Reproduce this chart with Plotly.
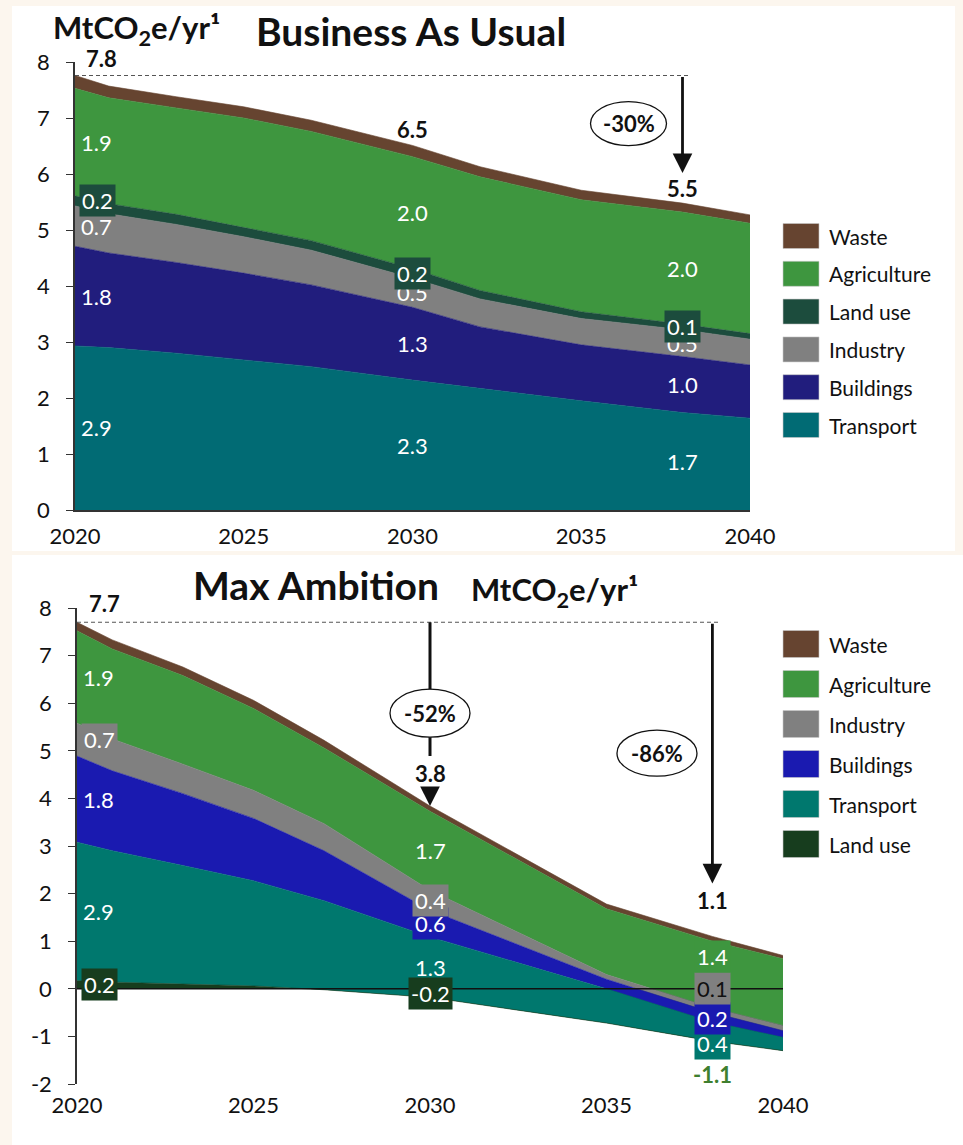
import plotly.graph_objects as go

# ---------------- data (MtCO2e per year) ----------------
bau_years = [2020, 2021, 2023, 2025, 2027, 2030, 2032, 2035, 2038, 2040]
bau_transport = [2.93, 2.90, 2.80, 2.68, 2.56, 2.32, 2.17, 1.95, 1.74, 1.64]
bau_buildings = [1.78, 1.69, 1.62, 1.55, 1.46, 1.30, 1.10, 1.00, 1.00, 0.95]
bau_industry = [0.72, 0.70, 0.68, 0.65, 0.62, 0.52, 0.50, 0.47, 0.48, 0.46]
bau_land_use = [0.18, 0.18, 0.18, 0.17, 0.17, 0.17, 0.15, 0.12, 0.10, 0.10]
bau_agriculture = [1.92, 1.89, 1.90, 1.95, 1.95, 2.00, 2.03, 2.00, 2.00, 1.97]
bau_waste = [0.23, 0.21, 0.20, 0.20, 0.20, 0.20, 0.18, 0.17, 0.16, 0.15]

max_years = [2020, 2021, 2023, 2025, 2027, 2030, 2035, 2038, 2040]
max_land_use = [0.17, 0.14, 0.10, 0.06, -0.02, -0.18, -0.72, -1.10, -1.30]
max_transport = [2.91, 2.76, 2.49, 2.21, 1.87, 1.27, 0.72, 0.40, 0.28]
max_buildings = [1.81, 1.68, 1.51, 1.31, 1.05, 0.56, 0.20, 0.20, 0.14]
max_industry = [0.69, 0.67, 0.62, 0.59, 0.57, 0.42, 0.10, 0.10, 0.11]
max_agriculture = [1.94, 1.89, 1.86, 1.72, 1.59, 1.66, 1.38, 1.40, 1.40]
max_waste = [0.18, 0.19, 0.18, 0.17, 0.16, 0.11, 0.10, 0.10, 0.07]

label_years = [2020, 2030, 2038]
tick_years = [2020, 2025, 2030, 2035, 2040]
bau_yticks = [0, 1, 2, 3, 4, 5, 6, 7, 8]
max_yticks = [-2, -1, 0, 1, 2, 3, 4, 5, 6, 7, 8]
bau_cut_text = "-30%"
max_cut_texts = ["-52%", "-86%"]

# stacking order, bottom to top
bau_stack = [("Transport", bau_transport), ("Buildings", bau_buildings),
             ("Industry", bau_industry), ("Land use", bau_land_use),
             ("Agriculture", bau_agriculture), ("Waste", bau_waste)]
max_stack = [("Land use", max_land_use), ("Transport", max_transport),
             ("Buildings", max_buildings), ("Industry", max_industry),
             ("Agriculture", max_agriculture), ("Waste", max_waste)]

# ---------------- styling ----------------
W, H = 963, 1145
FONT = "Lato, 'Open Sans', 'DejaVu Sans', sans-serif"
INK = "#111111"
bau_colors = {"Waste": "#664430", "Agriculture": "#3e963f", "Land use": "#1c4c3d",
              "Industry": "#808080", "Buildings": "#211d7d", "Transport": "#016b74"}
max_colors = {"Waste": "#664430", "Agriculture": "#3e963f", "Industry": "#808080",
              "Buildings": "#1a1ab0", "Transport": "#00786e", "Land use": "#173d1e"}

# plot areas in pixels (left, right, top, bottom)
TOP_BOX = (75, 750, 62, 510)
BOT_BOX = (77, 783, 608, 1084)


def px(x):
    return x / W


def py(y):
    return 1 - y / H


fig = go.Figure()

for name, vals in bau_stack:
    c = bau_colors[name]
    fig.add_trace(go.Scatter(x=bau_years, y=vals, name=name, stackgroup="bau",
                             mode="lines", line=dict(width=0.6, color=c),
                             fillcolor=c, xaxis="x", yaxis="y",
                             showlegend=False, hoverinfo="skip"))
for name, vals in max_stack:
    c = max_colors[name]
    fig.add_trace(go.Scatter(x=max_years, y=vals, name=name, stackgroup="max",
                             mode="lines", line=dict(width=0.6, color=c),
                             fillcolor=c, xaxis="x2", yaxis="y2",
                             showlegend=False, hoverinfo="skip"))

annotations = []
shapes = []

# white panels on the cream page
shapes.append(dict(type="rect", xref="paper", yref="paper", x0=px(12), x1=px(955),
                   y0=py(551), y1=py(6), fillcolor="white", line=dict(width=0),
                   layer="below"))
shapes.append(dict(type="rect", xref="paper", yref="paper", x0=px(12), x1=1,
                   y0=0, y1=py(555), fillcolor="white", line=dict(width=0),
                   layer="below"))


def label(x, y, text, xref, yref, color="white", bg=None, bold=False,
          xanchor="center", xshift=0, yshift=0, size=22):
    t = f"<b>{text}</b>" if bold else text
    d = dict(x=x, y=y, xref=xref, yref=yref, text=t, showarrow=False,
             font=dict(family=FONT, size=size, color=color),
             xanchor=xanchor, yanchor="middle", xshift=xshift, yshift=yshift)
    if bg is not None:
        d.update(bgcolor=bg, borderpad=2)
    annotations.append(d)


def column_labels(years, stack, colors, xref, yref, boxed, text_color, y_override):
    for ly in label_years:
        i = years.index(ly)
        base = 0.0
        for name, vals in stack:
            v = vals[i]
            mid = base + v / 2
            base += v
            if name == "Waste":
                continue
            y = y_override.get((ly, name), mid)
            bg = colors[name] if name in boxed.get(ly, set()) else None
            col = text_color.get((ly, name), "white")
            bold = (ly, name) in text_color
            if ly == label_years[0]:
                label(ly, y, f"{v:.1f}", xref, yref, color=col, bg=bg,
                      xanchor="left", xshift=4, bold=bold)
            else:
                label(ly, y, f"{v:.1f}", xref, yref, color=col, bg=bg, bold=bold)


def totals(years, stack):
    return [sum(vals[i] for _, vals in stack) for i in range(len(years))]


# ---------- Business As Usual labels ----------
column_labels(bau_years, bau_stack, bau_colors, "x", "y",
              {2020: {"Land use"}, 2030: {"Land use"}, 2038: {"Land use"}},
              {}, {})
bau_tot = totals(bau_years, bau_stack)
t0 = bau_tot[0]
label(2020, t0, f"{t0:.1f}", "x", "y", color=INK, bold=True, xanchor="left",
      xshift=9, yshift=17)
for ly, ys in ((2030, 16), (2038, 15)):
    t = bau_tot[bau_years.index(ly)]
    label(ly, t, f"{t:.1f}", "x", "y", color=INK, bold=True, yshift=ys)

top_unit = (TOP_BOX[3] - TOP_BOX[2]) / 8.0
shapes.append(dict(type="line", xref="x", yref="y", x0=2020, x1=2038.2, y0=t0, y1=t0,
                   line=dict(color="#555555", width=1.1, dash="4px,3px"), layer="above"))
t38 = bau_tot[bau_years.index(2038)]
annotations.append(dict(x=2038, y=t38 + 30 / top_unit, xref="x", yref="y",
                        ax=2038, ay=t0, axref="x", ayref="y", text="",
                        showarrow=True, arrowhead=2, arrowsize=1.4, arrowwidth=2.8,
                        arrowcolor=INK, standoff=0, startstandoff=0))
shapes.append(dict(type="circle", xref="x", yref="y", xsizemode="pixel",
                   ysizemode="pixel", xanchor=2036.4, yanchor=6.9,
                   x0=-38, x1=38, y0=-22, y1=22, fillcolor="white",
                   line=dict(color=INK, width=1.3), layer="above"))
label(2036.4, 6.9, bau_cut_text, "x", "y", color=INK, bold=True, size=22)

# ---------- Max Ambition labels ----------
column_labels(max_years, max_stack, max_colors, "x2", "y2",
              {2020: {"Industry", "Land use"},
               2030: {"Industry", "Buildings", "Land use"},
               2038: {"Agriculture", "Industry", "Buildings", "Transport"}},
              {(2038, "Land use"): "#3f7f2f"},
              {(2038, "Agriculture"): 0.67, (2038, "Industry"): 0.0,
               (2038, "Buildings"): -0.63, (2038, "Transport"): -1.14,
               (2038, "Land use"): -1.79})
# the grey 0.1 label uses dark text
for a in annotations:
    if a.get("bgcolor") == max_colors["Industry"] and a["xref"] == "x2" and a["x"] == 2038:
        a["font"]["color"] = INK

max_tot = totals(max_years, max_stack)
m0 = max_tot[0]
bot_unit = (BOT_BOX[3] - BOT_BOX[2]) / 10.0
label(2020, m0, f"{m0:.1f}", "x2", "y2", color=INK, bold=True, xanchor="left",
      xshift=10, yshift=19)
shapes.append(dict(type="line", xref="x2", yref="y2", x0=2020, x1=2038.2, y0=m0, y1=m0,
                   line=dict(color="#555555", width=1.1, dash="4px,3px"), layer="above"))

# 2030 marker: line through the ellipse, value, short arrow to the curve
m30 = max_tot[max_years.index(2030)]
shapes.append(dict(type="line", xref="x2", yref="y2", x0=2030, x1=2030, y0=m0,
                   y1=m30 + 50 / bot_unit, line=dict(color=INK, width=3), layer="above"))
shapes.append(dict(type="circle", xref="x2", yref="y2", xsizemode="pixel",
                   ysizemode="pixel", xanchor=2030, yanchor=5.79,
                   x0=-40, x1=40, y0=-24, y1=24, fillcolor="white",
                   line=dict(color=INK, width=1.3), layer="above"))
label(2030, 5.79, max_cut_texts[0], "x2", "y2", color=INK, bold=True)
label(2030, m30, f"{m30:.1f}", "x2", "y2", color=INK, bold=True, yshift=33)
annotations.append(dict(x=2030, y=m30, xref="x2", yref="y2", ax=0, ay=-19,
                        text="", showarrow=True, arrowhead=2, arrowsize=1.4,
                        arrowwidth=2.8, arrowcolor=INK, standoff=0))

# 2038 marker
m38 = max_tot[max_years.index(2038)]
annotations.append(dict(x=2038, y=m38 + 53 / bot_unit, xref="x2", yref="y2",
                        ax=2038, ay=m0, axref="x2", ayref="y2", text="",
                        showarrow=True, arrowhead=2, arrowsize=1.4, arrowwidth=2.8,
                        arrowcolor=INK, standoff=0, startstandoff=0))
label(2038, m38, f"{m38:.1f}", "x2", "y2", color=INK, bold=True, yshift=36)
shapes.append(dict(type="circle", xref="x2", yref="y2", xsizemode="pixel",
                   ysizemode="pixel", xanchor=2036.43, yanchor=4.95,
                   x0=-40, x1=40, y0=-23, y1=23, fillcolor="white",
                   line=dict(color=INK, width=1.3), layer="above"))
label(2036.43, 4.95, max_cut_texts[1], "x2", "y2", color=INK, bold=True)

# zero line over the areas
shapes.append(dict(type="line", xref="x2", yref="y2", x0=2020, x1=2040, y0=0, y1=0,
                   line=dict(color=INK, width=1.5), layer="above"))


# ---------- legends ----------
def legend(names, colors, x_sw, y_first, step, sw_h):
    for k, name in enumerate(names):
        yc = y_first + k * step
        shapes.append(dict(type="rect", xref="paper", yref="paper",
                           x0=px(x_sw), x1=px(x_sw + 36),
                           y0=py(yc + sw_h / 2), y1=py(yc - sw_h / 2),
                           fillcolor=colors[name],
                           line=dict(color="rgba(200,200,200,0.6)", width=1)))
        annotations.append(dict(x=px(x_sw + 44), y=py(yc), xref="paper", yref="paper",
                                text=name, showarrow=False, xanchor="left",
                                yanchor="middle",
                                font=dict(family=FONT, size=21, color=INK)))


legend([n for n, _ in reversed(bau_stack)], bau_colors, 783, 236, 37.8, 25)
legend([n for n, _ in reversed(max_stack)], max_colors, 783, 644, 40, 27)

# ---------- titles ----------
unit = "MtCO<sub>2</sub>e/yr\u00b9"
annotations.append(dict(x=px(51), y=py(30), xref="paper", yref="paper",
                        text=f"<b>{unit}</b>", showarrow=False, xanchor="left",
                        yanchor="middle", font=dict(family=FONT, size=31, color=INK)))
annotations.append(dict(x=px(254), y=py(31), xref="paper", yref="paper",
                        text="<b>Business As Usual</b>", showarrow=False,
                        xanchor="left", yanchor="middle",
                        font=dict(family=FONT, size=39, color=INK)))
annotations.append(dict(x=px(191), y=py(585), xref="paper", yref="paper",
                        text="<b>Max Ambition</b>", showarrow=False, xanchor="left",
                        yanchor="middle", font=dict(family=FONT, size=39, color=INK)))
annotations.append(dict(x=px(469), y=py(591), xref="paper", yref="paper",
                        text=f"<b>{unit}</b>", showarrow=False, xanchor="left",
                        yanchor="middle", font=dict(family=FONT, size=31, color=INK)))

axis_font = dict(family=FONT, size=22, color=INK)
fig.update_layout(
    width=W, height=H, margin=dict(l=0, r=0, t=0, b=0, pad=0, autoexpand=False),
    paper_bgcolor="#fcf6ee", plot_bgcolor="white", showlegend=False,
    font=dict(family=FONT, color=INK),
    xaxis=dict(domain=[px(TOP_BOX[0]), px(TOP_BOX[1])], range=[2020, 2040],
               anchor="y", tickvals=tick_years, showgrid=False, zeroline=False,
               showline=True, linecolor="#333333", linewidth=1.5, ticks="",
               tickfont=axis_font, ticklabelstandoff=6, layer="above traces",
               automargin=False),
    yaxis=dict(domain=[py(TOP_BOX[3]), py(TOP_BOX[2])], range=[0, 8],
               tickvals=bau_yticks, ticktext=[str(v) for v in bau_yticks],
               anchor="x", showgrid=False, zeroline=False, showline=True,
               linecolor="#333333", linewidth=1.5, ticks="outside", ticklen=7,
               tickcolor="#333333", tickfont=axis_font, ticklabelstandoff=12,
               layer="above traces", automargin=False),
    xaxis2=dict(domain=[px(BOT_BOX[0]), px(BOT_BOX[1])], range=[2020, 2040],
                anchor="y2", tickvals=tick_years, showgrid=False, zeroline=False,
                showline=False, ticks="", tickfont=axis_font, ticklabelstandoff=6,
                automargin=False),
    yaxis2=dict(domain=[py(BOT_BOX[3]), py(BOT_BOX[2])], range=[-2, 8],
                tickvals=max_yticks, ticktext=[str(v) for v in max_yticks],
                anchor="x2", showgrid=False, zeroline=False, showline=True,
                linecolor="#333333", linewidth=1.5, ticks="outside", ticklen=7,
                tickcolor="#333333", tickfont=axis_font, ticklabelstandoff=12,
                layer="above traces", automargin=False),
    shapes=shapes, annotations=annotations,
)

fig.write_html("out.html")
